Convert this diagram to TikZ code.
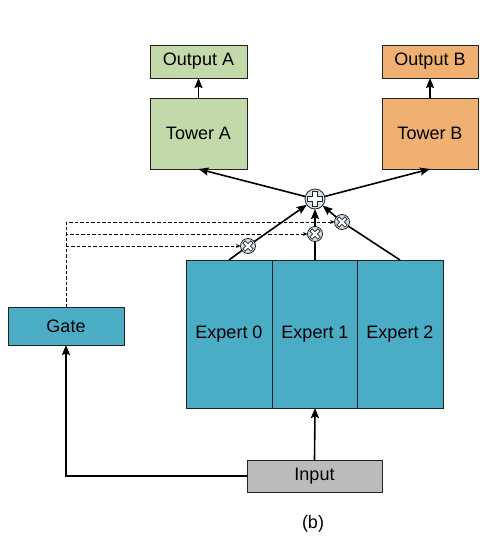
\documentclass[tikz,border=0pt]{standalone}
\usepackage{fontspec}
\setmainfont{Liberation Sans}
\usetikzlibrary{arrows.meta}
\definecolor{tgreen}{HTML}{C2DAAA}
\definecolor{torange}{HTML}{F0B071}
\definecolor{tteal}{HTML}{4BACC6}
\definecolor{tgray}{HTML}{BBBBBB}
\definecolor{tcirc}{HTML}{D3E2F0}
\definecolor{tline}{HTML}{222222}
\newcommand{\mycross}[4]{% center, rotation, half width, half length
  \draw[crossline, shift={(#1)}, rotate=#2]
    (-#3,-#4) -- (#3,-#4) -- (#3,-#3) -- (#4,-#3) -- (#4,#3) -- (#3,#3) -- (#3,#4)
    -- (-#3,#4) -- (-#3,#3) -- (-#4,#3) -- (-#4,-#3) -- (-#3,-#3) -- cycle;}
\begin{document}
\begin{tikzpicture}[x=1pt,y=-1pt,
  box/.style={draw=tline, line width=0.7pt, inner sep=0pt, outer sep=0pt,
     font=\fontsize{18}{21}\selectfont},
  opcirc/.style={circle, draw=tline, fill=tcirc, line width=0.8pt, inner sep=0pt, outer sep=0pt},
  crossline/.style={draw=tline, fill=white, line width=0.6pt},
  arr/.style={line width=1.6pt, -{Stealth[length=10pt,width=8pt,inset=1.5pt]}},
  plainline/.style={line width=1.6pt},
  dash arr/.style={line width=0.8pt, dash pattern=on 3.5pt off 2pt, -{Stealth[length=4.5pt,width=4pt]}}
]
\useasboundingbox (0,0) rectangle (486,546);
% top boxes
\node[box, fill=tgreen, minimum width=97pt, minimum height=33pt] (outA) at (198.5,61.5) {Output A};
\node[box, fill=tgreen, minimum width=97pt, minimum height=71pt] (towA) at (198.5,133.5) {Tower A};
\node[box, fill=torange, minimum width=96pt, minimum height=33pt] (outB) at (430,61.5) {Output B};
\node[box, fill=torange, minimum width=96pt, minimum height=71pt] (towB) at (430,133.5) {Tower B};
% experts
\node[box, fill=tteal, minimum width=86pt, minimum height=148pt] (e0) at (229,334) {Expert 0};
\node[box, fill=tteal, minimum width=86pt, minimum height=148pt] (e1) at (315,334) {Expert 1};
\node[box, fill=tteal, minimum width=86pt, minimum height=148pt] (e2) at (400,334) {Expert 2};
% gate and input
\node[box, fill=tteal, minimum width=116pt, minimum height=38pt] (gate) at (66,326) {Gate};
\node[box, fill=tgray, minimum width=135pt, minimum height=32pt] (inp) at (314.5,476) {Input};
\node[font=\fontsize{18}{21}\selectfont] (lab) at (313,524) {(b)};
% operator circles
\node[opcirc, minimum size=20pt] (plus) at (315,199) {};
\node[opcirc, minimum size=15pt] (m0) at (248,246) {};
\node[opcirc, minimum size=15pt] (m1) at (315,234) {};
\node[opcirc, minimum size=15pt] (m2) at (342,222) {};
\mycross{plus.center}{0}{2.6}{7.3}
\mycross{m0.center}{45}{1.7}{5.6}
\mycross{m1.center}{45}{1.7}{5.6}
\mycross{m2.center}{45}{1.7}{5.6}
% connectors
\draw[arr] (towA.north) -- (outA.south);
\draw[arr] (towB.north) -- (outB.south);
\draw[arr] (plus) -- (towA.south);
\draw[arr] (plus) -- (towB.south);
\draw[plainline] (e0.north) -- (m0);
\draw[plainline] (e1.north) -- (m1);
\draw[plainline] (e2.north) -- (m2);
\draw[arr] (m0) -- (plus);
\draw[arr] (m1) -- (plus);
\draw[arr] (m2) -- (plus);
\draw[arr] (inp.north) -- (e1.south);
\draw[arr] (inp.west) -| (gate.south);
\draw[dash arr] (gate.north) |- (m2.west);
\draw[dash arr] (gate.north) |- (m1.west);
\draw[dash arr] (gate.north) |- (m0.west);
\end{tikzpicture}
\end{document}
